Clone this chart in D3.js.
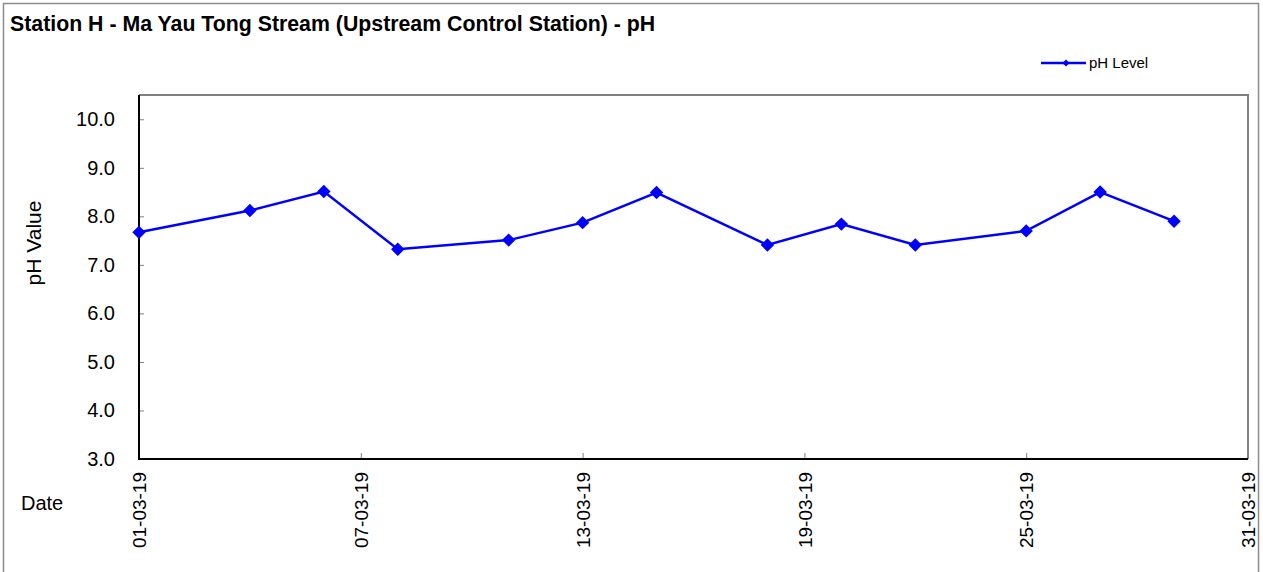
<!DOCTYPE html>
<html>
<head>
<meta charset="utf-8">
<script src="https://cdn.jsdelivr.net/npm/d3@7/dist/d3.min.js"></script>
<style>
html,body{margin:0;padding:0;background:#fff;}
text{font-family:Arial,"Liberation Sans",sans-serif;}
</style>
</head>
<body>
<svg id="chart" width="1263" height="572"></svg>
<script>
const dates = ["2019-03-01","2019-03-04","2019-03-06","2019-03-08","2019-03-11","2019-03-13","2019-03-15","2019-03-18","2019-03-20","2019-03-22","2019-03-25","2019-03-27","2019-03-29"];
const phValues = [7.67, 8.12, 8.51, 7.32, 7.51, 7.87, 8.49, 7.41, 7.84, 7.41, 7.70, 8.50, 7.90];
const xTickDates = ["2019-03-01","2019-03-07","2019-03-13","2019-03-19","2019-03-25","2019-03-31"];
const yTicks = [3,4,5,6,7,8,9,10];
const title = "Station H - Ma Yau Tong Stream (Upstream Control Station) - pH";
const seriesName = "pH Level";

const parse = d3.timeParse("%Y-%m-%d");
const fmt = d3.timeFormat("%d-%m-%y");
const svg = d3.select("#chart");
const W = 1263, H = 572;
const m = {left:139, top:95, right:1248, bottom:459};

// outer frame
svg.append("rect").attr("x",3.5).attr("y",3.5).attr("width",1255).attr("height",H+10)
  .attr("fill","#fff").attr("stroke","#8c8c8c").attr("stroke-width",1.5);

const x = d3.scaleTime().domain([parse("2019-03-01"), parse("2019-03-31")]).range([m.left, m.right]);
const y = d3.scaleLinear().domain([3, 10.5]).range([m.bottom, m.top]);

// plot border top/right grey
svg.append("path").attr("d",`M${m.left},${m.top}H${m.right}V${m.bottom}`)
  .attr("fill","none").attr("stroke","#808080").attr("stroke-width",2);

// Y axis
const yAxis = svg.append("g").attr("transform",`translate(${m.left},0)`)
  .call(d3.axisLeft(y).tickValues(yTicks).tickFormat(d3.format(".1f")).tickSize(-5).tickPadding(24));
yAxis.select(".domain").remove();
yAxis.selectAll(".tick line").attr("stroke","#808080").attr("stroke-width",1);
yAxis.selectAll(".tick text").attr("font-size",20).attr("fill","#000").attr("font-family","Arial,'Liberation Sans',sans-serif");

// X axis
const xAxis = svg.append("g").attr("transform",`translate(0,${m.bottom})`)
  .call(d3.axisBottom(x).tickValues(xTickDates.map(parse)).tickFormat(fmt).tickSize(-6));
xAxis.select(".domain").remove();
xAxis.selectAll(".tick line").attr("stroke","#808080").attr("stroke-width",1);
xAxis.selectAll(".tick text")
  .attr("font-size",19).attr("fill","#000").attr("font-family","Arial,'Liberation Sans',sans-serif")
  .attr("transform","rotate(-90)").attr("text-anchor","end")
  .attr("x",-13).attr("y",0).attr("dy","0.35em");

// left/bottom black axis lines
svg.append("path").attr("d",`M${m.left},${m.top}V${m.bottom}H${m.right}`)
  .attr("fill","none").attr("stroke","#000").attr("stroke-width",2);

// line
const data = dates.map((d,i)=>({date:parse(d), v:phValues[i]}));
svg.append("path").datum(data)
  .attr("d", d3.line().x(d=>x(d.date)).y(d=>y(d.v)))
  .attr("fill","none").attr("stroke","#0000ff").attr("stroke-width",2.5);
const diamond = d3.symbol().type(d3.symbolDiamond2).size(115);
svg.selectAll(".pt").data(data).join("path").attr("class","pt")
  .attr("d", diamond)
  .attr("transform", d=>`translate(${x(d.date)},${y(d.v)})`)
  .attr("fill","#0000ff");

// title
svg.append("text").attr("x",10).attr("y",31).attr("font-size",21.3).attr("font-weight","bold")
  .attr("fill","#000").text(title);

// axis titles
svg.append("text").attr("transform","translate(41,243) rotate(-90)").attr("text-anchor","middle")
  .attr("font-size",21).attr("fill","#000").text("pH Value");
svg.append("text").attr("x",21).attr("y",510).attr("font-size",20).attr("fill","#000").text("Date");

// legend
const lg = svg.append("g");
lg.append("line").attr("x1",1041).attr("x2",1086).attr("y1",63).attr("y2",63)
  .attr("stroke","#0000ff").attr("stroke-width",2.5);
lg.append("path").attr("d", d3.symbol().type(d3.symbolDiamond2).size(32))
  .attr("transform","translate(1066,63)").attr("fill","#0000ff");
lg.append("text").attr("x",1089).attr("y",68).attr("font-size",15).attr("fill","#000").text(seriesName);
</script>
</body>
</html>
